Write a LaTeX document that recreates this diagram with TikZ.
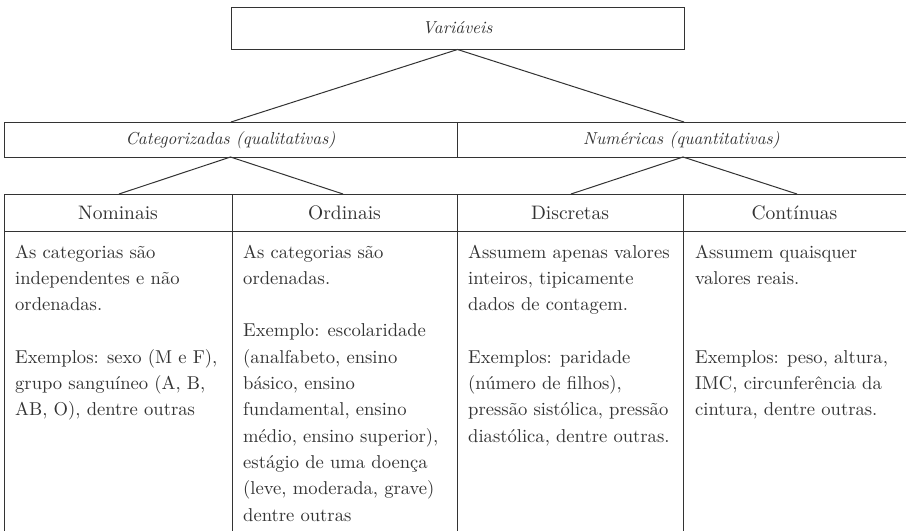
\documentclass[tikz,border=0pt]{standalone}
\usepackage{fontspec}
\setmainfont{lmroman10}[Extension=.otf, UprightFont=*-regular, ItalicFont=*-italic, BoldFont=*-bold]
\begin{document}
\begin{tikzpicture}[x=1pt,y=-1pt,
  ln/.style={draw=black!80, line width=1pt},
  ittext/.style={text=black!80, inner sep=0pt, font=\fontsize{17.3}{20}\selectfont\itshape},
  headtext/.style={text=black!80, inner sep=0pt, font=\fontsize{19.5}{24}\selectfont},
  bodytext/.style={text=black!80, inner sep=0pt, anchor=base west, align=left, font=\fontsize{18.6}{26.3}\selectfont}]
\useasboundingbox (0,0) rectangle (906,531);
\fill[white] (0,0) rectangle (906,531);

% top box
\node[ln, ittext, minimum width=453pt, minimum height=42pt] (var) at (457.5,28) {Variáveis};

% second row
\draw[ln] (906,122) -- (4,122) -- (4,157) -- (906,157);
\draw[ln] (457,122) -- (457,157);
\node[ittext] (cat) at (230.5,140) {Categorizadas (qualitativas)};
\node[ittext] (num) at (681.5,140) {Numéricas (quantitativas)};
\coordinate (catT) at (231,122);
\coordinate (numT) at (684,122);
\draw[ln] (catT) -- (var.south) -- (numT);

% third row frame
\draw[ln] (906,194) -- (4,194) -- (4,531);
\draw[ln] (4,231) -- (906,231);
\draw[ln] (232,194) -- (232,531);
\draw[ln] (457,194) -- (457,531);
\draw[ln] (683,194) -- (683,531);

\coordinate (catB) at (230.5,157);
\coordinate (numB) at (683,157);
\coordinate (nomT) at (119,194);
\coordinate (ordT) at (343,194);
\coordinate (disT) at (571,194);
\coordinate (conT) at (797,194);
\draw[ln] (nomT) -- (catB) -- (ordT);
\draw[ln] (disT) -- (numB) -- (conT);

% headers
\node[headtext] (nom) at (118,212.5) {Nominais};
\node[headtext] (ord) at (344.5,212.5) {Ordinais};
\node[headtext] (dis) at (570,212.5) {Discretas};
\node[headtext] (con) at (794.5,212.5) {Contínuas};

% bodies (anchor base = baseline of last line)
\node[bodytext] (nomb) at (15,415.8) {As categorias são\\ independentes e não\\ ordenadas.\\[26.3pt] Exemplos: sexo (M e F),\\ grupo sanguíneo (A, B,\\ AB, O), dentre outras};
\node[bodytext] (ordb) at (243,521) {As categorias são\\ ordenadas.\\[26.3pt] Exemplo: escolaridade\\ (analfabeto, ensino\\ básico, ensino\\ fundamental, ensino\\ médio, ensino superior),\\ estágio de uma doença\\ (leve, moderada, grave)\\ dentre outras};
\node[bodytext] (disb) at (468,442.1) {Assumem apenas valores\\ inteiros, tipicamente\\ dados de contagem.\\[26.3pt] Exemplos: paridade\\ (número de filhos),\\ pressão sistólica, pressão\\ diastólica, dentre outras.};
\node[bodytext] (conb) at (695,415.8) {Assumem quaisquer\\ valores reais.\\[52.6pt] Exemplos: peso, altura,\\ IMC, circunferência da\\ cintura, dentre outras.};
\end{tikzpicture}
\end{document}
